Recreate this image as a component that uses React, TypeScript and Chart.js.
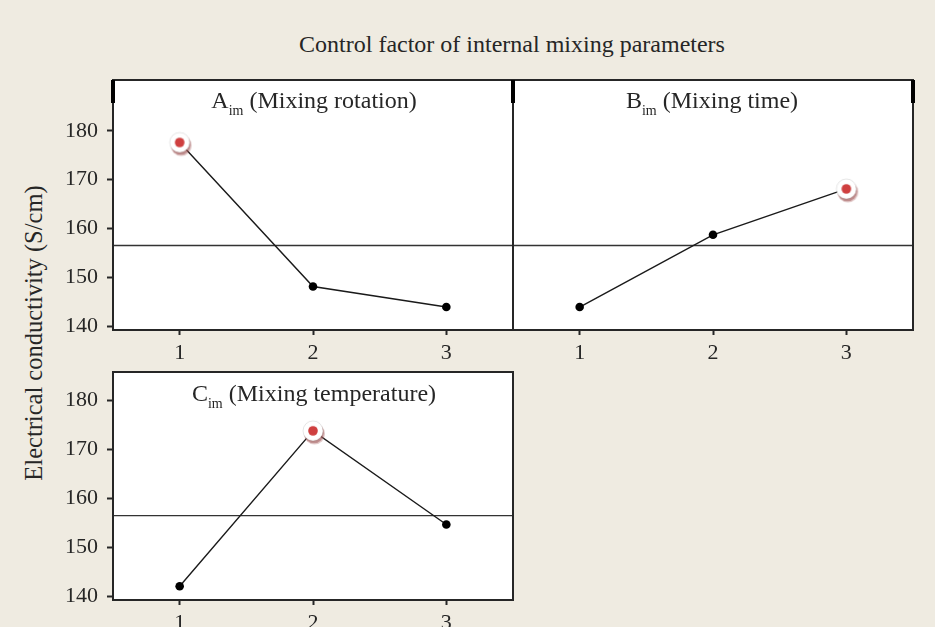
import React, { useEffect, useRef } from "react";
import { Chart, registerables } from "chart.js";

Chart.register(...registerables);

// ---- data ----
const levels = [1, 2, 3];
const levelLabels = ["1", "2", "3"];
const rotationValues = [177.6, 148.1, 143.9];
const timeValues = [143.9, 158.7, 168.1];
const temperatureValues = [142.1, 173.8, 154.7];
const yTickValues = [140, 150, 160, 170, 180];
const meanValue = 156.5;

const mainTitle = "Control factor of internal mixing parameters";
const yAxisTitle = "Electrical conductivity (S/cm)";
const panelA = { letter: "A", sub: "im", rest: " (Mixing rotation)" };
const panelB = { letter: "B", sub: "im", rest: " (Mixing time)" };
const panelC = { letter: "C", sub: "im", rest: " (Mixing temperature)" };

const SERIF = "'Liberation Serif', 'Times New Roman', serif";
const BG = "#efebe1";
const INK = "#262626";
const PAD = 30;
const X_AXIS_H = 40;

function makeMarker(): HTMLCanvasElement {
  const c = document.createElement("canvas");
  c.width = 34;
  c.height = 34;
  const g = c.getContext("2d")!;
  // soft pinkish shadow, lower-right
  g.fillStyle = "rgba(165,95,95,0.35)";
  g.beginPath();
  g.arc(18.5, 20, 10.5, 0, Math.PI * 2);
  g.fill();
  g.fillStyle = "rgba(160,90,90,0.55)";
  g.beginPath();
  g.arc(18, 19.5, 9.8, 0, Math.PI * 2);
  g.fill();
  // white disc
  g.fillStyle = "#ffffff";
  g.beginPath();
  g.arc(17, 17, 10, 0, Math.PI * 2);
  g.fill();
  g.strokeStyle = "rgba(0,0,0,0.1)";
  g.lineWidth = 1;
  g.stroke();
  // red dot
  g.fillStyle = "#cf3f3f";
  g.beginPath();
  g.arc(17, 17, 4.8, 0, Math.PI * 2);
  g.fill();
  return c;
}

const panelPlugin = {
  id: "panelFrame",
  beforeDraw(chart: any) {
    const { ctx, chartArea } = chart;
    ctx.save();
    ctx.fillStyle = "#ffffff";
    ctx.fillRect(chartArea.left, chartArea.top, chartArea.right - chartArea.left, chartArea.bottom - chartArea.top);
    ctx.restore();
  },
  afterDraw(chart: any, _args: any, opts: any) {
    const { ctx, chartArea } = chart;
    const { left, top, right, bottom } = chartArea;
    ctx.save();
    ctx.strokeStyle = INK;
    ctx.lineWidth = 2;
    ctx.strokeRect(left, top, right - left, bottom - top);
    ctx.fillStyle = "#000";
    const thick: string[] = (opts && opts.thick) || [];
    thick.forEach((edge) => {
      const x = edge === "left" ? left : right;
      ctx.fillRect(x - 2, top, 4, 23);
    });
    ctx.restore();
  },
};

interface PanelProps {
  values: number[];
  areaLeft: number;
  areaTop: number;
  areaRight: number;
  areaBottom: number;
  axisWidth: number;
  yMin: number;
  yMax: number;
  showY: boolean;
  thick: string[];
}

function Panel(p: PanelProps) {
  const ref = useRef<HTMLCanvasElement>(null);
  const cLeft = p.areaLeft - p.axisWidth - PAD;
  const cTop = p.areaTop - PAD;
  const cWidth = p.axisWidth + (p.areaRight - p.areaLeft) + 2 * PAD;
  const cHeight = PAD + (p.areaBottom - p.areaTop) + X_AXIS_H;
  useEffect(() => {
    const marker = makeMarker();
    const hi = p.values.indexOf(Math.max(...p.values));
    const font = { family: SERIF, size: 22 };
    const chart = new Chart(ref.current!, {
      type: "line",
      data: {
        datasets: [
          {
            data: levels.map((x, i) => ({ x, y: p.values[i] })),
            borderColor: "#1a1a1a",
            borderWidth: 1.4,
            pointRadius: p.values.map((_, i) => (i === hi ? 12 : 4.3)),
            pointStyle: p.values.map((_, i) => (i === hi ? marker : "circle")) as any,
            pointBackgroundColor: "#000",
            pointBorderWidth: 0,
            tension: 0,
          },
          {
            data: [
              { x: 0.5, y: meanValue },
              { x: 3.5, y: meanValue },
            ],
            borderColor: "#333",
            borderWidth: 1.4,
            pointRadius: 0,
          },
        ],
      },
      options: {
        animation: false,
        responsive: false,
        events: [],
        layout: { padding: { top: PAD, right: PAD, left: PAD, bottom: 0 } },
        plugins: {
          legend: { display: false },
          tooltip: { enabled: false },
          title: { display: false },
          panelFrame: { thick: p.thick },
        } as any,
        scales: {
          x: {
            type: "linear",
            min: 0.5,
            max: 3.5,
            afterBuildTicks: (s: any) => {
              s.ticks = levels.map((v) => ({ value: v }));
            },
            afterFit: (s: any) => {
              s.height = X_AXIS_H;
            },
            ticks: {
              callback: (v: any) => levelLabels[levels.indexOf(Number(v))] ?? "",
              font,
              color: INK,
              padding: 5,
              maxRotation: 0,
              autoSkip: false,
            },
            grid: {
              drawOnChartArea: false,
              drawTicks: true,
              tickLength: 5,
              tickWidth: 2,
              tickColor: INK,
            },
            border: { display: false },
          },
          y: {
            type: "linear",
            min: p.yMin,
            max: p.yMax,
            afterBuildTicks: (s: any) => {
              s.ticks = yTickValues.map((v) => ({ value: v }));
            },
            afterFit: (s: any) => {
              s.width = p.axisWidth;
            },
            ticks: {
              display: p.showY,
              font,
              color: INK,
              padding: 9,
            },
            grid: {
              display: p.showY,
              drawOnChartArea: false,
              drawTicks: true,
              tickLength: 6,
              tickWidth: 2,
              tickColor: INK,
            },
            border: { display: false },
          },
        },
      },
      plugins: [panelPlugin],
    } as any);
    return () => chart.destroy();
  }, []);
  return (
    <canvas
      ref={ref}
      width={cWidth}
      height={cHeight}
      style={{
        position: "absolute",
        left: cLeft,
        top: cTop,
        width: cWidth,
        height: cHeight,
      }}
    />
  );
}

function PanelTitle(props: { t: { letter: string; sub: string; rest: string }; cx: number; top: number }) {
  return (
    <div
      style={{
        position: "absolute",
        left: props.cx,
        top: props.top,
        transform: "translateX(-50%)",
        whiteSpace: "nowrap",
        fontFamily: SERIF,
        fontSize: 24,
        lineHeight: "24px",
        color: INK,
      }}
    >
      {props.t.letter}
      <span style={{ fontSize: 14, position: "relative", top: 7 }}>{props.t.sub}</span>
      {props.t.rest}
    </div>
  );
}

export default function App() {
  useEffect(() => {
    document.body.style.margin = "0";
    document.body.style.background = BG;
  }, []);
  return (
    <div
      style={{
        position: "fixed",
        left: 0,
        top: 0,
        width: 935,
        height: 627,
        background: BG,
        overflow: "hidden",
      }}
    >
      <div
        style={{
          position: "absolute",
          left: 512,
          top: 32,
          transform: "translateX(-50%)",
          whiteSpace: "nowrap",
          fontFamily: SERIF,
          fontSize: 24,
          lineHeight: "24px",
          color: INK,
        }}
      >
        {mainTitle}
      </div>
      <div
        style={{
          position: "absolute",
          left: 33,
          top: 333,
          transform: "translate(-50%, -50%) rotate(-90deg)",
          whiteSpace: "nowrap",
          fontFamily: SERIF,
          fontSize: 24.5,
          lineHeight: "25px",
          color: INK,
        }}
      >
        {yAxisTitle}
      </div>

      <Panel
        values={rotationValues}
        areaLeft={113}
        areaTop={80}
        areaRight={513}
        areaBottom={330}
        axisWidth={63}
        yMin={139.2}
        yMax={190.4}
        showY={true}
        thick={["left"]}
      />
      <Panel
        values={timeValues}
        areaLeft={513}
        areaTop={80}
        areaRight={913}
        areaBottom={330}
        axisWidth={10}
        yMin={139.2}
        yMax={190.4}
        showY={false}
        thick={["left", "right"]}
      />
      <Panel
        values={temperatureValues}
        areaLeft={113}
        areaTop={372}
        areaRight={513}
        areaBottom={600}
        axisWidth={63}
        yMin={139.3}
        yMax={185.8}
        showY={true}
        thick={[]}
      />

      <PanelTitle t={panelA} cx={314} top={88} />
      <PanelTitle t={panelB} cx={712} top={88} />
      <PanelTitle t={panelC} cx={314} top={381} />
    </div>
  );
}
